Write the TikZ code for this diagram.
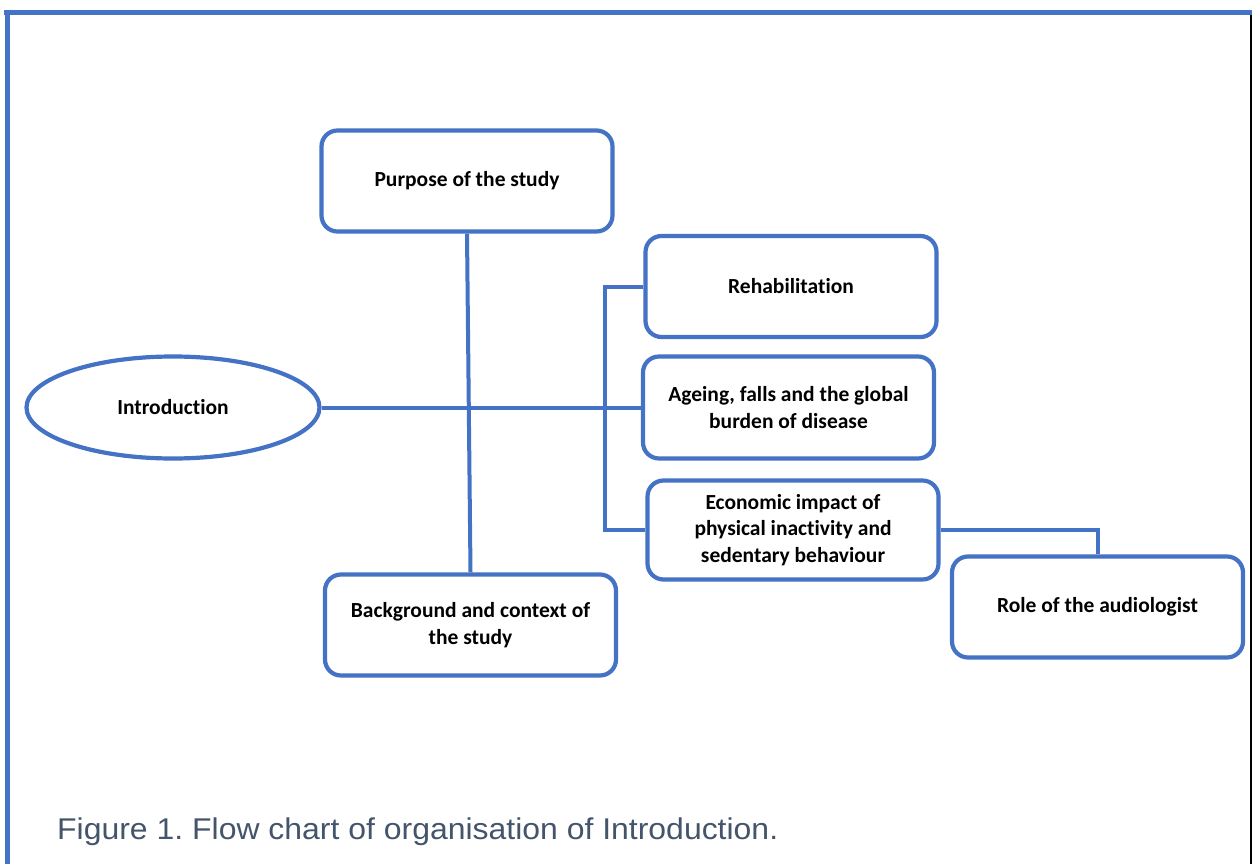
\documentclass[tikz,border=0pt]{standalone}
\usepackage{fontspec}
\setmainfont{Carlito}[Ligatures=NoCommon]
\newfontfamily\capfont{Liberation Sans}
\usetikzlibrary{shapes.geometric}
\definecolor{obl}{HTML}{4472C4}
\definecolor{capc}{HTML}{44546A}
\definecolor{thin}{HTML}{C9D3E6}
\tikzset{
  box/.style={draw=obl, line width=4.2pt, rounded corners=16pt, minimum width=291pt, minimum height=101pt, inner sep=0pt, align=center, font=\bfseries\fontsize{21.5}{26.5}\selectfont, text=black},
  oval/.style={draw=obl, line width=4.2pt, ellipse, minimum width=293pt, minimum height=102pt, inner sep=0pt, font=\bfseries\fontsize{21.5}{26.5}\selectfont},
  conn/.style={draw=obl, line width=4pt},
}
\frenchspacing
\begin{document}
\begin{tikzpicture}[x=1pt,y=-1pt]
\useasboundingbox (0,0) rectangle (1252,864);
% frame
\draw[obl, line width=5pt] (4,12.5) -- (1252,12.5);
\draw[obl, line width=5pt] (7,10) -- (7,864);
\draw[thin, line width=1.2pt] (1251,15) -- (1251,864);
% nodes
\node[box] (purpose) at (467,181) {Purpose of the study};
\node[box] (background) at (470.5,625) {Background and context of\\the study};
\node[oval] (intro) at (173,407.5) {Introduction};
\node[box] (rehab) at (791,286.5) {Rehabilitation};
\node[box, minimum height=102pt] (ageing) at (788.5,407.5) {Ageing, falls and the global\\burden of disease};
\node[box, minimum height=99pt] (economic) at (793,530) {Economic impact of\\physical inactivity and\\sedentary behaviour};
\node[box] (role) at (1097.5,607) {Role of the audiologist};
% connectors
\coordinate (brk) at (605,0);
\draw[conn] (purpose.south) -- (background.north);
\draw[conn] (intro.east) -- (ageing.west);
\draw[conn] (rehab.west) -- (rehab.west -| brk) |- (economic.west);
\draw[conn] (economic.east) -| (role.north);
% caption
\node[anchor=base west, inner sep=0pt, text=capc, xscale=1.065, font=\capfont\fontsize{30}{34}\selectfont] (cap) at (57,839) {Figure 1. Flow chart of organisation of Introduction.};
\end{tikzpicture}
\end{document}
